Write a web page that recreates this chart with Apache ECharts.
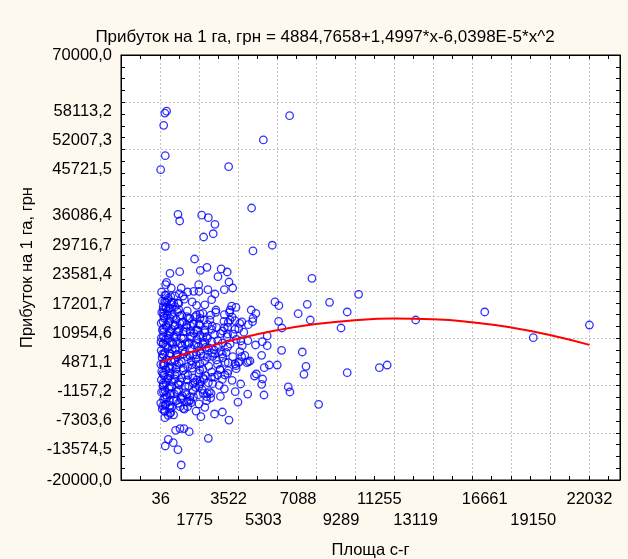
<!DOCTYPE html>
<html>
<head>
<meta charset="utf-8">
<script src="https://cdn.jsdelivr.net/npm/echarts@6/dist/echarts.min.js"></script>
<style>
  html, body { margin: 0; padding: 0; background: #fdf9ef; }
  #chart-container { width: 628px; height: 559px; }
</style>
</head>
<body>
<div id="chart-container"></div>
<script>
// tick labels (Statistica puts them at data values, grid lines are regular)
const yLabelValues = [70000, 58113.2, 52007.3, 45721.5, 36086.4, 29716.7, 23581.4, 17201.7, 10954.6, 4871.1, -1157.2, -7303.6, -13574.5, -20000];
const xLabelValues = [36, 1775, 3522, 5303, 7088, 9289, 11255, 13119, 16661, 19150, 22032];

// scatter points [area, profit]
const pointsTop = [
  [340, 58113.2], [250, 57700], [190, 55100], [270, 48680], [36, 45721.5], [6650, 57150], [5303, 52007.3], [3522, 46350],
  [923, 36270], [1010, 34850], [2140, 36086.4], [2480, 35550], [2820, 34150], [2730, 32150], [2240, 31460], [4700, 37600],
  [272, 29490], [4770, 28500], [5760, 29716.7], [1775, 26800], [513, 23770], [1010, 24120], [2070, 24400], [2410, 25040],
  [3140, 24690], [3450, 24050], [2975, 23060], [7795, 22710], [340, 21860], [290, 21360], [3540, 21930], [1985, 21360],
  [580, 20660], [1090, 20660], [3730, 20660], [3300, 20300], [2460, 20300]
];

const pointsRight = [
  [10190, 19330], [5900, 17700], [6100, 16910], [7555, 17201.7], [8700, 17630], [9605, 15580], [7088, 15220], [6085, 13610],
  [7710, 13880], [6255, 12190], [9289, 12190], [5500, 10500], [5250, 9290], [5500, 8440], [5215, 6410], [6240, 7470],
  [7300, 7110], [5605, 4350], [5350, 3780], [6015, 4350], [7490, 4070], [7385, 2380], [9605, 2720], [11255, 3780],
  [11655, 4350], [5265, 1390], [5215, 270], [5335, -2000], [6580, -300], [6665, -1360], [8140, -3970],
  [13119, 13880], [16661, 15580], [19150, 10140], [22032, 12820]
];

const pointsCluster = [
  [990, 19450], [1420, 19810], [1730, 19960], [2000, 19960], [2820, 19390], [550, 18820], [1180, 18960], [2650, 18180],
  [290, 17630], [700, 17550], [920, 17420], [170, 16150], [460, 16280], [960, 16150], [1880, 16990], [2870, 16000],
  [2200, 15300], [3590, 16000], [3900, 16570], [4680, 16000], [4920, 15300],
  [190, 14730], [513, 14240], [1026, 14730], [1470, 14240], [1810, 14590], [2270, 13880], [2560, 13880], [3280, 13600],
  [3590, 13880], [3850, 13740], [4770, 14240], [4750, 13530],
  [4530, 12890], [4040, 12040], [3470, 12330], [3215, 11550], [2680, 12610], [2650, 11910], [2000, 13040], [1575, 12610],
  [1130, 13320], [750, 12610], [325, 12760], [120, 11770], [480, 11060], [890, 11340], [1350, 11410], [1745, 11060],
  [2200, 10220], [2430, 10010], [2960, 9500], [3450, 10350], [3910, 9790], [4510, 9500],
  [50, 9220], [290, 8590], [680, 8730], [1110, 8440], [1490, 9010], [1965, 8230], [2340, 8100], [2780, 7530],
  [3470, 8170], [4220, 8440],
  [120, 6680], [510, 6900], [890, 6620], [1300, 7110], [1680, 6410], [2100, 6750], [2430, 5990], [2905, 5410],
  [3215, 5900], [3730, 6110], [4070, 5050], [4460, 4840], [4620, 5200],
  [220, 4290], [630, 4000], [990, 4710], [1420, 4000], [1860, 4420], [2200, 3440], [2650, 2870], [3080, 3440],
  [3470, 2600], [3910, 3580], [4140, 330], [3860, -1300], [4940, 2450], [4850, 2020],
  [140, 2600], [510, 2030], [855, 2450], [1300, 2300], [1690, 1600], [2050, 330], [2480, 610], [3040, 50],
  [170, 120], [600, -240], [990, 120], [1470, -100], [1830, -370],
  [310, -2000], [735, -1790], [1130, -2150], [1540, -2360], [1965, -1930], [2430, -1650], [2530, -1300],
  [140, -4330], [510, -4180], [220, -5390], [550, -5750], [1026, -4470], [1470, -3340], [1420, -4470], [2800, -6020],
  [3540, -7303.6],
  [800, -9470], [1026, -9120], [1230, -9120], [1500, -9760], [2480, -11170], [425, -11380], [680, -12090], [270, -12800],
  [920, -13574.5], [1090, -16820]
];

const pointsDenseUpper = [
  [308, 19180], [240, 17760], [375, 18050], [580, 17630], [165, 16700], [310, 16350], [520, 16380], [770, 16700],
  [965, 17400], [175, 15300], [380, 14940], [680, 14590], [160, 13530], [425, 13180], [770, 12820], [1110, 14940],
  [1370, 14590], [1540, 14240], [1880, 14940], [2050, 14240], [1026, 13180], [1370, 12820], [1710, 13180], [2050, 12820],
  [175, 12120], [513, 11410], [940, 11550], [1200, 11410], [1540, 11410], [1880, 11770], [2310, 11770],
  [172, 10350], [425, 10010], [855, 10350], [1200, 10010], [1625, 10350], [2050, 10710], [2390, 10350],
  [168, 8950], [600, 8950], [1026, 8950], [1450, 8740], [1880, 8950], [2310, 9160],
  [2860, 15520], [3675, 16840], [3570, 15520], [4090, 13180], [3500, 13400], [3300, 12250], [3850, 11920], [3470, 10920],
  [4150, 9440], [4900, 8590]
];

const pointsDenseLower = [
  [175, 6480], [520, 6720], [850, 6460], [1210, 6690], [1530, 6310], [1870, 6520], [2230, 6280],
  [160, 4420], [505, 3680], [860, 4370], [1195, 3720], [1630, 4410], [2040, 3290],
  [180, 2210], [430, 1580], [765, 2230], [1120, 1620], [1440, 2180], [1890, 1190], [2210, 1630],
  [165, 520], [520, -210], [935, 480], [1290, -180], [1700, 530], [2060, 880],
  [175, -1320], [505, -1880], [860, -1290], [1365, -1920], [1720, -2410],
  [250, -2620], [690, -3080], [1100, -2580], [1550, -3120],
  [260, -4120], [515, -4810], [255, -5480], [505, -5910], [940, -3750], [1370, -3410], [1200, -4820],
  [2015, -100], [2220, -1650], [2390, -2360],
  [2820, 6680], [3200, 6680], [4190, 6110], [4530, 5050], [3500, 4840], [3850, 4570], [4020, 4840], [3080, 3300],
  [3330, 2240], [3500, 3150], [2650, 1750], [2960, 2240], [2620, -1650], [2390, -3200]
];

const pointsExtra = [
  [80, 19800], [250, 19100], [430, 18500], [120, 17900], [560, 17200], [300, 16600], [90, 15500], [380, 15800],
  [620, 15100], [210, 14300], [470, 13600], [60, 13200], [330, 12400], [590, 11900], [180, 11300], [420, 10600],
  [70, 10100], [280, 9700], [540, 9300], [150, 8800], [400, 8100], [630, 7700], [60, 7400], [250, 7000],
  [480, 6300], [110, 5900], [350, 5500], [580, 5100], [200, 4800], [40, 4500], [440, 3900], [300, 3300],
  [90, 3000], [520, 2700], [230, 2200], [400, 1500], [70, 1200], [600, 900], [310, 600], [150, -200],
  [460, -600], [260, -1100], [80, -1400], [560, -1700], [360, -2500], [180, -2900], [480, -3300], [40, -3700],
  [300, -4000], [600, -4600], [120, -5000], [420, -6300], [250, -6800],
  [760, 19000], [1250, 18300], [1650, 17700], [2300, 17100], [900, 15600], [1400, 15800], [2050, 15200], [2600, 14900],
  [820, 14000], [1200, 13500], [1700, 13000], [2450, 12900], [2900, 12300], [950, 12100], [1350, 12300], [1950, 11700],
  [2300, 11200], [2800, 10800], [700, 10400], [1100, 10000], [1550, 10400], [1900, 9800], [2650, 9300], [3200, 9000],
  [850, 9300], [1300, 8900], [1750, 8600], [2200, 8900], [2500, 8000], [3000, 8300], [780, 7700], [1150, 7400],
  [1550, 7800], [2050, 7300], [2650, 6900], [3100, 7200], [900, 6000], [1400, 6100], [1850, 5600], [2300, 5200],
  [2700, 6200], [3350, 4900], [760, 5300], [1100, 5000], [1600, 5200], [2050, 4600], [2500, 4100], [2950, 4500],
  [820, 3500], [1200, 3200], [1650, 3700], [2000, 2600], [2350, 2100], [2800, 1800], [3200, 1300], [750, 1400],
  [1050, 800], [1400, 1200], [1800, 700], [2250, 1300], [2700, 400], [950, -1000], [1300, -1500], [1700, -1200],
  [2150, -800], [2600, -2600], [1100, -2900], [1600, -3600], [2000, -3900], [850, -3200], [1250, -5000], [1850, -5400],
  [2300, -4600], [700, -6200], [2100, -6600],
  [3300, 15000], [3700, 14500], [4200, 13500], [3100, 11000], [3750, 10900], [4300, 11300], [3600, 8800], [4100, 7200],
  [3400, 7000], [3900, 4200], [4350, 6400], [3300, -700], [3700, 1100], [4500, -1800], [3100, -2300], [4000, -3500],
  [3200, -5600]
];

// fitted curve
const fitX = [36, 2000, 4000, 6000, 8000, 10000, 12000, 14000, 16000, 18000, 20000, 22032];
const fitY = [4940, 7640, 9920, 11710, 13020, 13840, 14180, 14040, 13420, 12310, 10720, 8610];

const allPoints = [].concat(pointsTop, pointsRight, pointsCluster, pointsDenseUpper, pointsDenseLower, pointsExtra);
const fitData = fitX.map((x, i) => [x, fitY[i]]);

const font = "'Liberation Sans', Arial, sans-serif";
const fmtNum = v => v.toFixed(1).replace('.', ',');

const tickStyle = { show: true, inside: true, length: 4, lineStyle: { color: '#000', width: 1 } };
const gridLine = { show: true, lineStyle: { color: '#c4c4c4', type: [2, 2], width: 1 } };
const frameLine = { show: true, onZero: false, lineStyle: { color: '#000', width: 1 } };

const chartContainer = document.getElementById('chart-container');
const myChart = echarts.init(chartContainer);

const options = {
  animation: false,
  backgroundColor: '#fdf9ef',
  title: {
    text: 'Прибуток на 1 га, грн = 4884,7658+1,4997*x-6,0398E-5*x^2',
    left: 320,
    top: 24,
    textAlign: 'center',
    textStyle: { fontFamily: font, fontSize: 17, fontWeight: 'normal', color: '#000' }
  },
  grid: {
    left: 121, right: 8, top: 55, bottom: 79,
    outerBoundsMode: 'none',
    show: true, backgroundColor: '#fff', borderColor: '#000', borderWidth: 1
  },
  xAxis: [{
    type: 'value',
    min: -2000, max: 23600, interval: 2000,
    name: 'Площа с-г',
    nameLocation: 'middle',
    nameGap: 62,
    nameTextStyle: { fontFamily: font, fontSize: 16.5, color: '#000' },
    axisLine: frameLine,
    axisTick: tickStyle,
    minorTick: { show: true, splitNumber: 2, length: 4, lineStyle: { color: '#000' } },
    splitLine: gridLine,
    axisLabel: {
      customValues: xLabelValues,
      formatter: v => (xLabelValues.indexOf(v) % 2 === 1 ? '\n' + v : '' + v),
      fontFamily: font, fontSize: 16.5, color: '#000', margin: 9, lineHeight: 21
    }
  }, {
    type: 'value', position: 'top',
    min: -2000, max: 23600, interval: 2000,
    axisLine: frameLine,
    axisTick: tickStyle,
    minorTick: { show: true, splitNumber: 2, length: 4, lineStyle: { color: '#000' } },
    splitLine: { show: false },
    axisLabel: { show: false }
  }],
  yAxis: [{
    type: 'value',
    min: -20000, max: 70000, interval: 10000,
    name: 'Прибуток на 1 га, грн',
    nameLocation: 'middle',
    nameGap: 85,
    nameTextStyle: { fontFamily: font, fontSize: 16.5, color: '#000' },
    axisLine: frameLine,
    axisTick: tickStyle,
    minorTick: { show: true, splitNumber: 4, length: 4, lineStyle: { color: '#000' } },
    splitLine: gridLine,
    axisLabel: {
      customValues: yLabelValues,
      showMinLabel: true, showMaxLabel: true,
      formatter: fmtNum,
      fontFamily: font, fontSize: 16.5, color: '#000', margin: 9
    }
  }, {
    type: 'value', position: 'right',
    min: -20000, max: 70000, interval: 10000,
    axisLine: frameLine,
    axisTick: tickStyle,
    minorTick: { show: true, splitNumber: 4, length: 4, lineStyle: { color: '#000' } },
    splitLine: { show: false },
    axisLabel: { show: false }
  }],
  series: [{
    name: 'Прибуток',
    type: 'scatter',
    symbol: 'circle',
    symbolSize: 7.5,
    itemStyle: { color: 'rgba(0,0,0,0)', borderColor: '#0000ff', borderWidth: 1.3 },
    data: allPoints
  }, {
    name: 'fit',
    type: 'line',
    showSymbol: false,
    smooth: true,
    lineStyle: { color: '#ff0000', width: 2 },
    data: fitData,
    z: 5
  }]
};

myChart.setOption(options);
</script>
</body>
</html>
